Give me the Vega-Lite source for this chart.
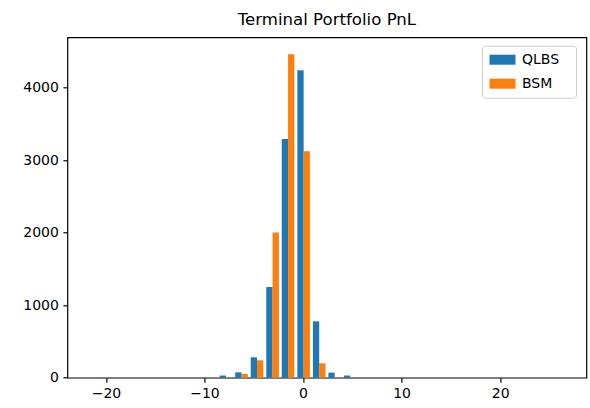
{
  "$schema": "https://vega.github.io/schema/vega-lite/v6.json",
  "width": 519,
  "height": 340.4,
  "autosize": {"type": "none"},
  "padding": {"left": 67.4, "top": 37.3, "right": 3.6, "bottom": 30.3},
  "background": "white",
  "title": {
    "text": "Terminal Portfolio PnL",
    "fontSize": 16.6,
    "fontWeight": "normal",
    "font": "DejaVu Sans",
    "color": "#000000",
    "anchor": "middle",
    "offset": 8.5
  },
  "data": {
    "values": [
      {"bin_center": -20.42, "series": "QLBS", "count": 1},
      {"bin_center": -20.42, "series": "BSM", "count": 0},
      {"bin_center": -7.82, "series": "QLBS", "count": 30},
      {"bin_center": -7.82, "series": "BSM", "count": 2},
      {"bin_center": -6.24, "series": "QLBS", "count": 74},
      {"bin_center": -6.24, "series": "BSM", "count": 52},
      {"bin_center": -4.67, "series": "QLBS", "count": 281},
      {"bin_center": -4.67, "series": "BSM", "count": 240},
      {"bin_center": -3.09, "series": "QLBS", "count": 1250},
      {"bin_center": -3.09, "series": "BSM", "count": 2000},
      {"bin_center": -1.52, "series": "QLBS", "count": 3290},
      {"bin_center": -1.52, "series": "BSM", "count": 4460},
      {"bin_center": 0.06, "series": "QLBS", "count": 4238},
      {"bin_center": 0.06, "series": "BSM", "count": 3120},
      {"bin_center": 1.64, "series": "QLBS", "count": 777},
      {"bin_center": 1.64, "series": "BSM", "count": 200},
      {"bin_center": 3.21, "series": "QLBS", "count": 70},
      {"bin_center": 3.21, "series": "BSM", "count": 4},
      {"bin_center": 4.79, "series": "QLBS", "count": 30},
      {"bin_center": 4.79, "series": "BSM", "count": 0},
      {"bin_center": 25.26, "series": "QLBS", "count": 0},
      {"bin_center": 25.26, "series": "BSM", "count": 1}
    ]
  },
  "encoding": {
    "x": {
      "field": "bin_center",
      "type": "quantitative",
      "scale": {"domain": [-23.4, 28.24], "nice": false, "zero": false},
      "axis": {"values": [-20, -10, 0, 10, 20], "title": null}
    },
    "y": {
      "field": "count",
      "type": "quantitative",
      "scale": {"domain": [0, 4692], "nice": false},
      "axis": {"values": [0, 1000, 2000, 3000, 4000], "title": null, "format": "d"}
    },
    "color": {
      "field": "series",
      "type": "nominal",
      "scale": {"domain": ["QLBS", "BSM"], "range": ["#1f77b4", "#ff7f0e"]},
      "legend": {
        "title": " ",
        "titleOrient": "right",
        "titleFontSize": 14,
        "titlePadding": 9.5,
        "orient": "none",
        "legendX": 414.6,
        "legendY": 8.4,
        "padding": 7,
        "strokeColor": "#cccccc",
        "fillColor": "rgba(255,255,255,0.8)",
        "cornerRadius": 3,
        "symbolType": "M-2,-0.77H2V0.77H-2Z",
        "symbolSize": 169,
        "symbolOffset": 6.5,
        "symbolStrokeWidth": 0,
        "symbolOpacity": 1,
        "labelOffset": 12.5,
        "rowPadding": 10,
        "labelFontSize": 14,
        "labelFont": "DejaVu Sans",
        "labelColor": "#000000"
      }
    }
  },
  "layer": [
    {
      "transform": [{"filter": "datum.series === 'QLBS'"}],
      "mark": {"type": "bar", "orient": "vertical", "width": 6.3, "xOffset": -3.15, "cornerRadius": 0}
    },
    {
      "transform": [{"filter": "datum.series === 'BSM'"}],
      "mark": {"type": "bar", "orient": "vertical", "width": 6.3, "xOffset": 3.15, "cornerRadius": 0}
    }
  ],
  "config": {
    "font": "DejaVu Sans",
    "view": {"stroke": "#000000", "strokeWidth": 1.2},
    "axis": {
      "labelFont": "DejaVu Sans",
      "labelFontSize": 14,
      "labelColor": "#000000",
      "tickColor": "#000000",
      "tickSize": 4.5,
      "tickWidth": 1.2,
      "labelPadding": 4.5,
      "domain": false,
      "grid": false
    }
  }
}
